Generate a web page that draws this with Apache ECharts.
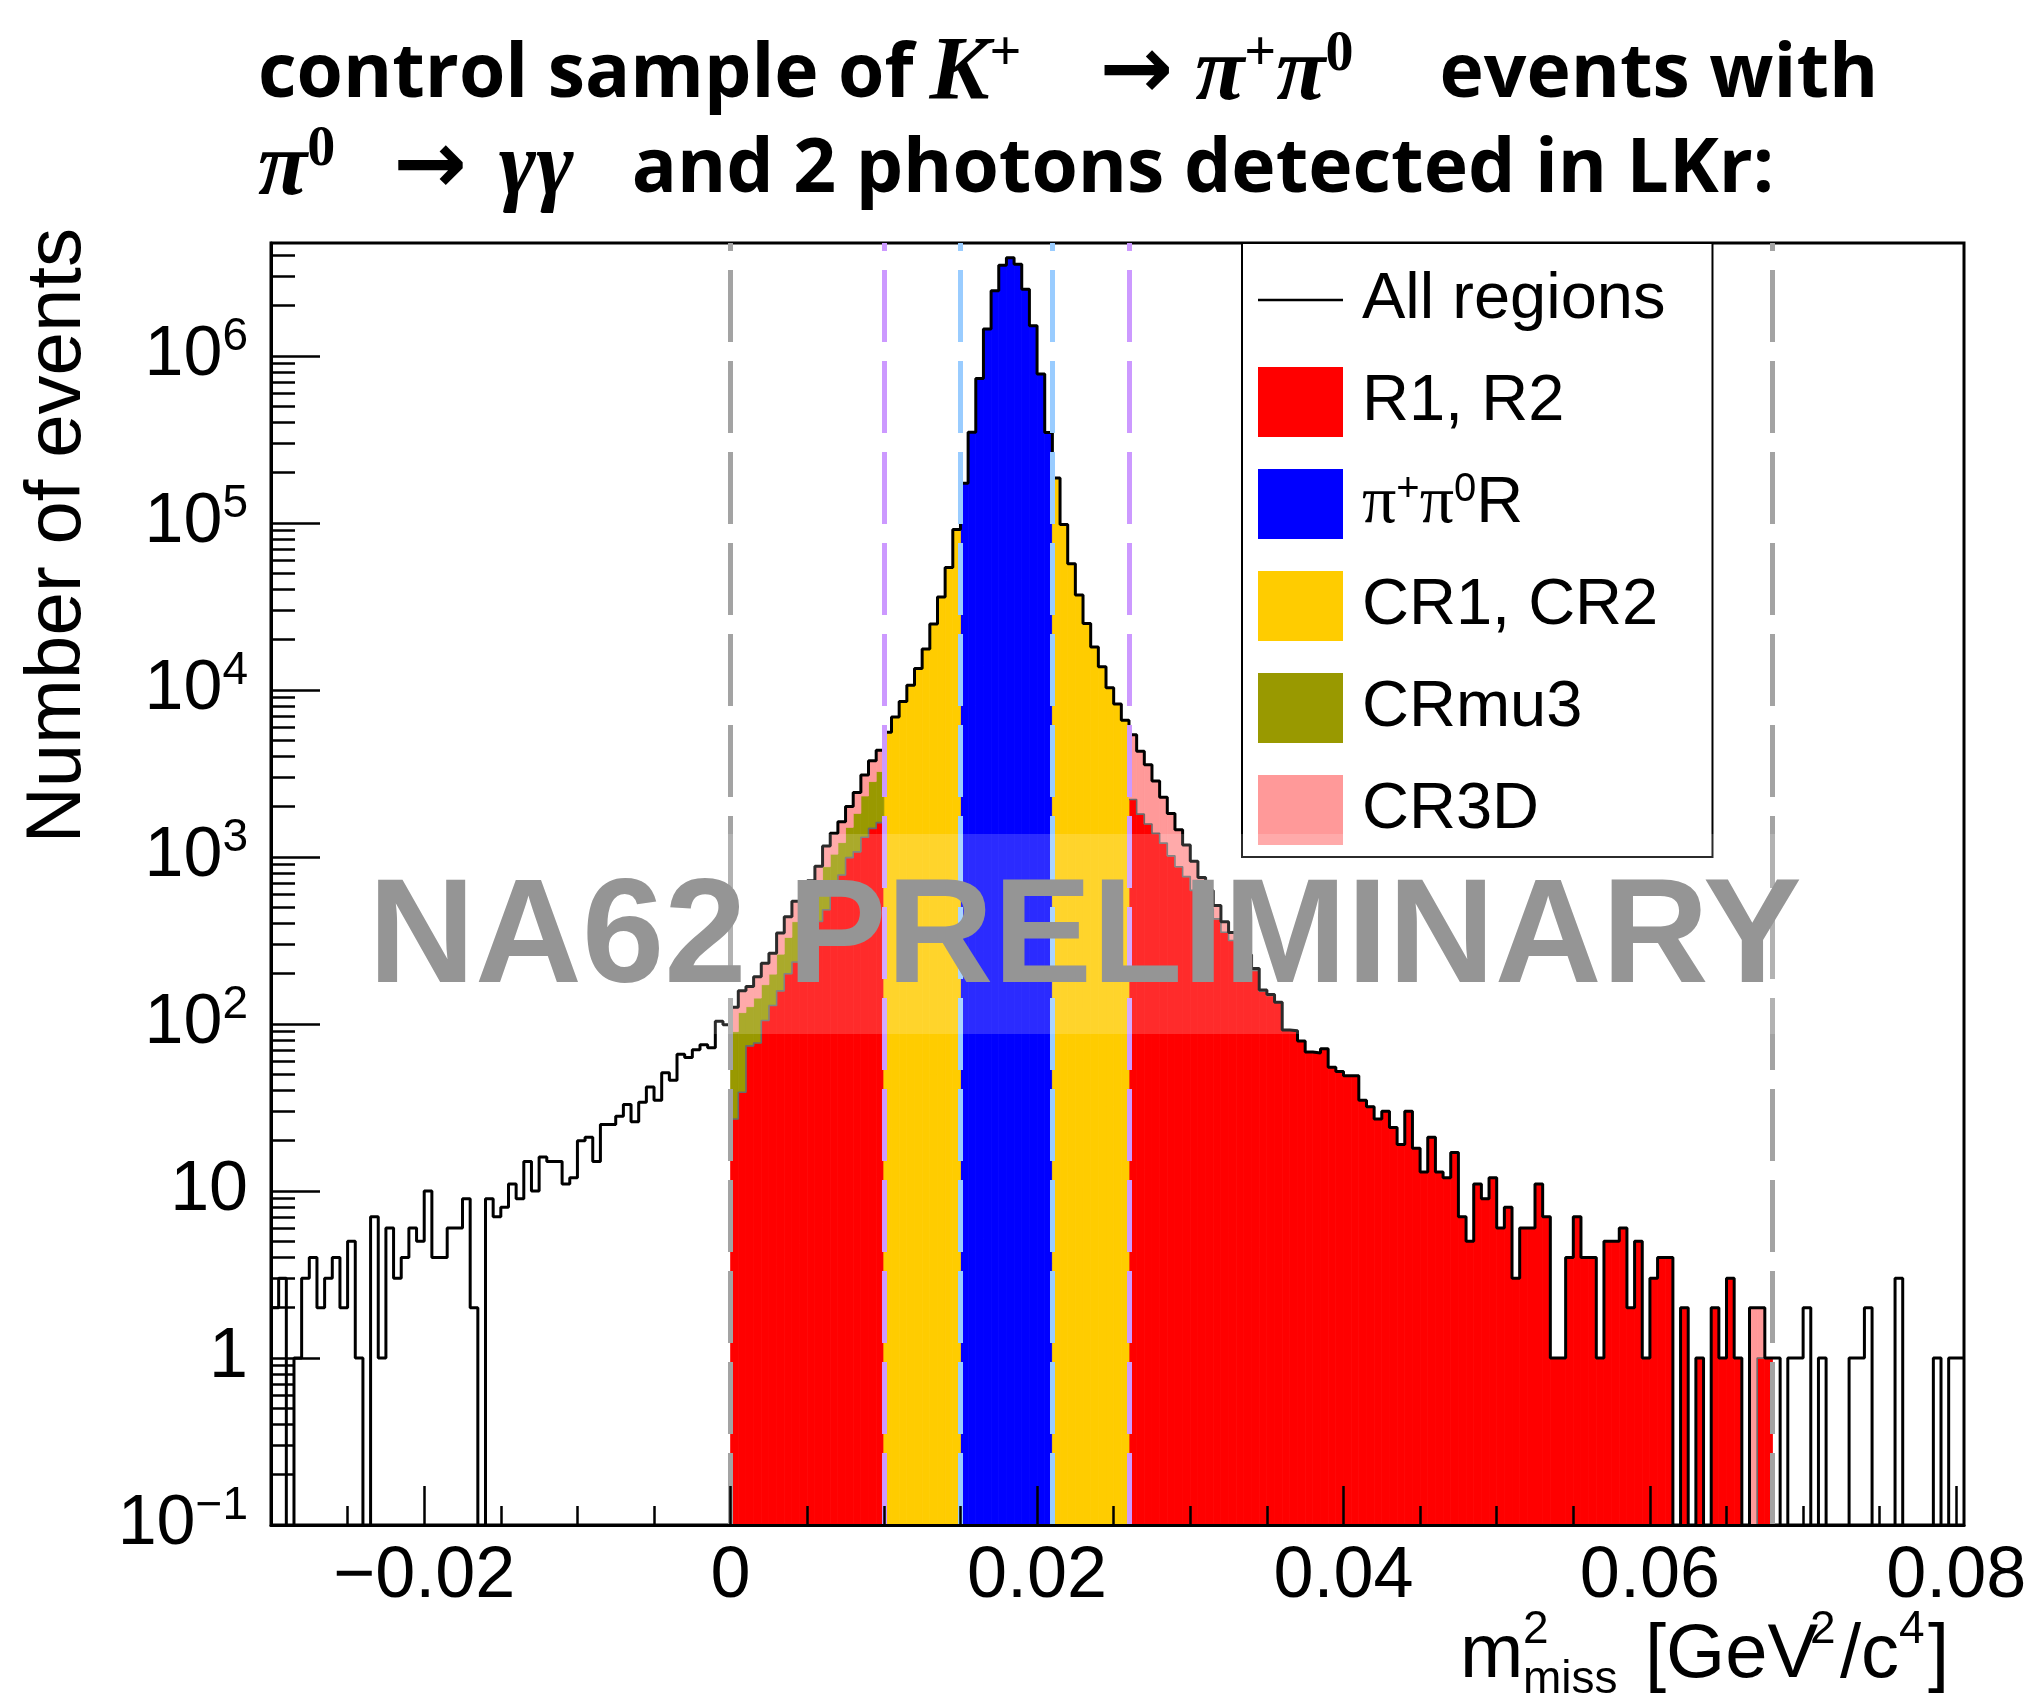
<!DOCTYPE html>
<html>
<head>
<meta charset="utf-8">
<script src="https://cdn.jsdelivr.net/npm/echarts@6/dist/echarts.min.js"></script>
<style>
html,body{margin:0;padding:0;background:#fff;}
#chart{width:2044px;height:1702px;}
</style>
</head>
<body>
<div id="chart"></div>
<script>
// ------------------------------------------------------------------
// DATA
// ------------------------------------------------------------------
const BIN_LOW = -0.03;     // lower edge of first bin  [GeV^2/c^4]
const BIN_WIDTH = 0.0005;  // histogram bin width      [GeV^2/c^4]

// "All regions" : events per bin, 221 bins from -0.03 to 0.0805
const allRegions = [
  2,3,0,1,3,4,2,3,4,2,
  5,1,0,7,1,6,3,4,6,5,
  10,4,4,6,6,9,2,0,9,7,
  8,11,9,15,10,16,15,15,11,12,
  20,21,15,25,25,28,33,26,34,42,
  35,51,46,66,63,70,75,72,104,99,
  126,158,168,192,231,265,351,439,544,614,
  720,879,1165,1387,1628,2006,2431,3093,3776,4360,
  5590,6900,8530,10680,13460,17600,24850,36100,54200,91300,
  173000,350000,733000,1450000,2460000,3490000,3880000,3540000,2510000,1520000,
  780000,348000,186000,98000,57000,37100,25000,18100,13770,10300,
  8240,6580,5390,4300,3570,2856,2281,1824,1457,1181,
  944,755,631,512,409,353,300,260,215,160,
  150,135,92,91,79,68,67,71,55,52,
  49,49,35,32,27,30,24,19,30,18,
  13,21,13,12,17,7,5,11,9,12,
  6,8,3,6,6,11,7,1,1,4,
  7,4,4,1,5,5,6,2,5,1,
  3,4,4,0,2,0,1,0,2,1,
  3,1,0,2,2,1,1,0,1,1,
  2,0,1,0,0,0,1,1,2,0,
  0,0,3,0,0,0,0,1,0,1,
  1
];

// Region R1 (bins 60..79, 0 < m2 < 0.010)
const r1Start = 60;
const r1 = [27,39,74,77,105,129,158,200,235,255,311,411,483,614,780,991,1074,1312,1483,1607];
// CRmu3 (bins 60..79)
const crmu3Start = 60;
const crmu3 = [63,78,53,66,67,70,104,130,175,207,229,249,392,426,440,514,751,1008,1347,1643];
// CR3D below pi+pi0 peak (bins 60..79)
const cr3dLeftStart = 60;
const cr3dLeft = [36,41,41,49,59,66,89,109,134,152,180,219,290,347,408,501,606,773,946,1110];
// CR1 (bins 80..89, 0.010 < m2 < 0.015)
const cr1Start = 80;
const cr1 = [5590,6900,8530,10680,13460,17600,24850,36100,54200,91300];
// pi+pi0 region (bins 90..101, 0.015 < m2 < 0.021)
const pipi0Start = 90;
const pipi0R = [173000,350000,733000,1450000,2460000,3490000,3880000,3540000,2510000,1520000,780000,348000];
// CR2 (bins 102..111, 0.021 < m2 < 0.026)
const cr2Start = 102;
const cr2 = [186000,98000,57000,37100,25000,18100,13770,10300,8240,6580];
// Region R2 (bins 112..195, 0.026 < m2 < 0.068)
const r2Start = 112;
const r2 = [
  2210,1805,1576,1386,1211,1016,874,763,631,563,
  488,426,354,316,277,249,209,157,148,135,
  92,91,79,68,67,71,55,52,49,49,
  35,32,27,30,24,19,30,18,13,21,
  13,12,17,7,5,11,9,12,6,8,
  3,6,6,11,7,1,1,4,7,4,
  4,1,5,5,6,2,5,1,3,4,
  4,0,2,0,1,0,2,1,3,1,
  0,0,1,1
];
// CR3D above pi+pi0 peak (bins 112..195)
const cr3dRightStart = 112;
const cr3dRight = [
  3180,2495,1994,1470,1070,808,583,418,313,192,
  143,86,55,37,23,11,6,3,2,0,
  0,0,0,0,0,0,0,0,0,0,
  0,0,0,0,0,0,0,0,0,0,
  0,0,0,0,0,0,0,0,0,0,
  0,0,0,0,0,0,0,0,0,0,
  0,0,0,0,0,0,0,0,0,0,
  0,0,0,0,0,0,0,0,0,0,
  0,2,1,0
];

// region boundaries (dashed lines) [GeV^2/c^4]
const regionBoundaries = [0, 0.010, 0.015, 0.021, 0.026, 0.068];

// axis ticks
const xMajorTicks = [-0.02, 0, 0.02, 0.04, 0.06, 0.08];
const xMinorTicks = [-0.025,-0.015,-0.01,-0.005,0.005,0.01,0.015,0.025,0.03,0.035,0.045,0.05,0.055,0.065,0.07,0.075];
const yMajorTicks = [0.1, 1, 10, 100, 1e3, 1e4, 1e5, 1e6];
const yMinorTicks = [0.2,0.3,0.4,0.5,0.6,0.7,0.8,0.9, 2,3,4,5,6,7,8,9, 20,30,40,50,60,70,80,90,
  200,300,400,500,600,700,800,900, 2e3,3e3,4e3,5e3,6e3,7e3,8e3,9e3, 2e4,3e4,4e4,5e4,6e4,7e4,8e4,9e4,
  2e5,3e5,4e5,5e5,6e5,7e5,8e5,9e5, 2e6,3e6,4e6];

// ------------------------------------------------------------------
// BUILD
// ------------------------------------------------------------------
const N = allRegions.length;
const edge = i => +(BIN_LOW + i * BIN_WIDTH).toFixed(6);
const X_MIN = BIN_LOW, X_MAX = edge(N);
const Y_MIN = 0.1, Y_MAX = 4.75e6;
const FLOOR = 1e-3; // below axis, zero bins drop to frame bottom

function place(start, arr) { const a = new Array(N).fill(0); arr.forEach((v, k) => { a[start + k] = v; }); return a; }
function sum(...arrs) { return arrs[0].map((_, i) => arrs.reduce((s, a) => s + a[i], 0)); }

const layers = [
  { name: 'R1, R2',   color: '#ff0000', values: sum(place(r1Start, r1), place(r2Start, r2)) },
  { name: 'π⁺π⁰R',    color: '#0000ff', values: place(pipi0Start, pipi0R) },
  { name: 'CR1, CR2', color: '#ffcc00', values: sum(place(cr1Start, cr1), place(cr2Start, cr2)) },
  { name: 'CRmu3',    color: '#999900', values: place(crmu3Start, crmu3) },
  { name: 'CR3D',     color: '#ff9999', values: sum(place(cr3dLeftStart, cr3dLeft), place(cr3dRightStart, cr3dRight)) }
];

let cum = new Array(N).fill(0);
const fillSeries = layers.map(layer => {
  const next = cum.map((c, i) => c + layer.values[i]);
  const data = [];
  for (let i = 0; i < N; i++) {
    if (layer.values[i] > 0) data.push([edge(i), edge(i + 1), Math.max(cum[i], Y_MIN), next[i]]);
  }
  cum = next;
  const color = layer.color;
  return {
    type: 'custom', name: layer.name, coordinateSystem: 'cartesian2d',
    xAxisIndex: 0, yAxisIndex: 0, z: 2, animation: false, silent: true,
    itemStyle: { color },
    encode: { x: [0, 1], y: [2, 3] },
    data,
    renderItem(params, api) {
      const cs = params.coordSys;
      const a = api.coord([api.value(0), api.value(3)]);
      const b = api.coord([api.value(1), api.value(2)]);
      const top = Math.max(Math.min(a[1], b[1]), cs.y);
      const bottom = Math.min(Math.max(a[1], b[1]), cs.y + cs.height);
      return { type: 'rect', shape: { x: a[0], y: top, width: b[0] - a[0], height: bottom - top },
               style: { fill: color, stroke: color, lineWidth: 0.8 } };
    }
  };
});

// thin outline of the R1,R2 layer
const redVals = layers[0].values;
const redOutline = [];
[[r1Start, r1Start + r1.length - 1], [r2Start, r2Start + r2.length - 1]].forEach(([s, e]) => {
  for (let i = s; i <= e; i++) redOutline.push([edge(i), redVals[i] > 0 ? redVals[i] : FLOOR]);
  redOutline.push([edge(e + 1), redVals[e] > 0 ? redVals[e] : FLOOR]);
  redOutline.push([edge(e + 1), null]);
});

const totalLine = allRegions.map((v, i) => [edge(i), v > 0 ? v : FLOOR]);
totalLine.push([X_MAX, allRegions[N - 1] > 0 ? allRegions[N - 1] : FLOOR]);

const boundaryColors = ['#a3a3a3', '#cc99ff', '#99ccff', '#99ccff', '#cc99ff', '#a3a3a3'];

const FONT = '"Liberation Sans", Arial, Helvetica, sans-serif';
const SERIF = '"Liberation Serif", "DejaVu Serif", serif';
const TFONT = '"Open Sans", sans-serif';

const yLabelFmt = v => {
  const e = Math.round(Math.log10(v));
  if (e === 0) return '{b|1}';
  if (e === 1) return '{b|10}';
  return '{b|10}{s|' + (e < 0 ? '−' + (-e) : e) + '}';
};
const xLabelFmt = v => (Math.abs(v) < 1e-12 ? '0' : (v < 0 ? '−' + String(+(-v).toFixed(4)) : String(+v.toFixed(4))));

const titleRich = {
  b:  { fontFamily: TFONT, fontWeight: 'bold', fontSize: 75, lineHeight: 95, color: '#000' },
  e:  { fontFamily: TFONT, fontWeight: 'bold', fontSize: 75, lineHeight: 95, color: '#000', padding: [0, 0, 0, 86] },
  e2: { fontFamily: TFONT, fontWeight: 'bold', fontSize: 75, lineHeight: 95, color: '#000', padding: [0, 0, 0, 58] },
  m:  { fontFamily: SERIF, fontStyle: 'italic', fontSize: 90, lineHeight: 95, color: '#000' },
  mk: { fontFamily: SERIF, fontStyle: 'italic', fontSize: 90, lineHeight: 95, color: '#000', padding: [0, 0, 0, 16] },
  s:  { fontFamily: SERIF, fontSize: 56, lineHeight: 62, verticalAlign: 'top', color: '#000' },
  a:  { fontFamily: '"DejaVu Sans", sans-serif', fontSize: 88, lineHeight: 95, color: '#000', padding: [0, 22, 0, 78] },
  a2: { fontFamily: '"DejaVu Sans", sans-serif', fontSize: 88, lineHeight: 95, color: '#000', padding: [0, 32, 0, 58] }
};

// legend icon for a plain line (thin bar, bounding box = full item box)
const LINE_ICON = 'path://M0,0L0.01,0L0,0.01Z M0,33.8L85,33.8L85,36.2L0,36.2Z M85,70L84.99,70L85,69.99Z';

const option = {
  animation: false,
  backgroundColor: '#ffffff',
  title: [
    { left: 258, top: 28, padding: 0,
      text: '{b|control sample of}{mk|K}{s|+}{a|→}{m|π}{s|+}{m|π}{s|0}{e|events with}',
      textStyle: { rich: titleRich } },
    { left: 258, top: 123, padding: 0,
      text: '{m|π}{s|0}{a2|→}{m|γγ}{e2|and 2 photons detected in LKr:}',
      textStyle: { rich: titleRich } }
  ],
  grid: { left: 271, right: 80, top: 243, bottom: 177, show: true, borderColor: '#000', borderWidth: 3, backgroundColor: 'transparent', containLabel: false },
  xAxis: [
    { type: 'value', min: X_MIN, max: X_MAX, position: 'bottom', z: 20,
      axisLine: { show: true, onZero: false, lineStyle: { color: '#000', width: 3 } },
      axisTick: { show: true, inside: true, length: 19, customValues: xMinorTicks, lineStyle: { color: '#000', width: 2.5 } },
      axisLabel: { show: false }, splitLine: { show: false } },
    { type: 'value', min: X_MIN, max: X_MAX, position: 'bottom', z: 20,
      axisLine: { show: false, onZero: false },
      axisTick: { show: true, inside: true, length: 39, customValues: xMajorTicks, lineStyle: { color: '#000', width: 2.5 } },
      axisLabel: { show: true, customValues: xMajorTicks, formatter: xLabelFmt, margin: 16,
                   fontFamily: FONT, fontSize: 72, color: '#000' },
      splitLine: { show: false } }
  ],
  yAxis: [
    { type: 'log', logBase: 10, min: Y_MIN, max: Y_MAX, position: 'left', z: 20,
      axisLine: { show: true, onZero: false, lineStyle: { color: '#000', width: 3 } },
      axisTick: { show: true, inside: true, length: 24, customValues: yMinorTicks, lineStyle: { color: '#000', width: 2.5 } },
      axisLabel: { show: false }, splitLine: { show: false }, minorTick: { show: false } },
    { type: 'log', logBase: 10, min: Y_MIN, max: Y_MAX, position: 'left', z: 20,
      axisLine: { show: false, onZero: false },
      axisTick: { show: true, inside: true, length: 49, customValues: yMajorTicks, lineStyle: { color: '#000', width: 2.5 } },
      axisLabel: { show: true, customValues: yMajorTicks, formatter: yLabelFmt, margin: 23,
                   rich: {
                     b: { fontFamily: FONT, fontSize: 70, lineHeight: 84, color: '#000' },
                     s: { fontFamily: FONT, fontSize: 46, lineHeight: 46, verticalAlign: 'top', color: '#000', padding: [0, 0, 0, 0] }
                   } },
      splitLine: { show: false } }
  ],
  legend: {
    orient: 'vertical', left: 1242, top: 243, z: 30,
    padding: [22, 47, 12, 16], itemGap: 32, itemWidth: 85, itemHeight: 70,
    backgroundColor: '#ffffff', borderColor: '#000', borderWidth: 2,
    selectedMode: false,
    data: [
      { name: 'All regions', icon: LINE_ICON, itemStyle: { color: '#000', borderWidth: 0 } },
      { name: 'R1, R2', icon: 'rect' },
      { name: 'π⁺π⁰R', icon: 'rect' },
      { name: 'CR1, CR2', icon: 'rect' },
      { name: 'CRmu3', icon: 'rect' },
      { name: 'CR3D', icon: 'rect' }
    ],
    formatter: name => name === 'π⁺π⁰R'
      ? '{p1|π}{sp|+}{p|π}{sp|0}{t|R}'
      : '{t1|' + name + '}',
    textStyle: {
      fontFamily: FONT, fontSize: 65, color: '#000',
      rich: {
        t1: { fontFamily: FONT, fontSize: 65, color: '#000', padding: [0, 0, 0, 14] },
        t: { fontFamily: FONT, fontSize: 65, color: '#000' },
        p1: { fontFamily: SERIF, fontSize: 68, color: '#000', padding: [0, 0, 0, 14] },
        p: { fontFamily: SERIF, fontSize: 68, color: '#000' },
        sp: { fontFamily: FONT, fontSize: 40, lineHeight: 40, verticalAlign: 'top', color: '#000' }
      }
    }
  },
  series: [
    ...fillSeries,
    { type: 'line', name: 'R1 outline', data: redOutline, step: 'end', symbol: 'none', z: 3,
      connectNulls: false, silent: true, animation: false,
      lineStyle: { color: '#6a6a6a', width: 1.6 } },
    { type: 'line', name: 'All regions', data: totalLine, step: 'end', symbol: 'none', showSymbol: false, z: 4,
      silent: true, animation: false, clip: true,
      itemStyle: { color: '#000' }, lineStyle: { color: '#000', width: 3 } },
    { type: 'line', name: 'boundaries', data: [], z: 6, silent: true, animation: false,
      markLine: {
        silent: true, symbol: ['none', 'none'], label: { show: false }, animation: false, precision: 6,
        data: regionBoundaries.map((v, i) => ({ xAxis: v, lineStyle: { color: boundaryColors[i], width: 5, type: [72, 19], opacity: 1 } }))
      } }
  ],
  graphic: [
    // watermark band + text
    { type: 'rect', z: 100, silent: true, shape: { x: 365, y: 834, width: 1440, height: 200 },
      style: { fill: 'rgba(255,255,255,0.17)' } },
    { type: 'text', z: 101, silent: true, x: 1085, y: 941,
      style: { text: 'NA62 PRELIMINARY', font: 'bold 148px ' + FONT, fill: '#959595', align: 'center', verticalAlign: 'middle' } },
    // y-axis title
    { type: 'text', z: 50, silent: true, x: 58, y: 228, rotation: Math.PI / 2,
      style: { text: 'Number of events', font: '78px ' + FONT, fill: '#000', align: 'right', verticalAlign: 'middle' } },
    // x-axis title pieces
    { type: 'text', z: 50, silent: true, x: 1460, y: 1656, style: { text: 'm', font: '76px ' + FONT, fill: '#000', align: 'left', verticalAlign: 'middle' } },
    { type: 'text', z: 50, silent: true, x: 1523, y: 1630, style: { text: '2', font: '46px ' + FONT, fill: '#000', align: 'left', verticalAlign: 'middle' } },
    { type: 'text', z: 50, silent: true, x: 1523, y: 1680, style: { text: 'miss', font: '46px ' + FONT, fill: '#000', align: 'left', verticalAlign: 'middle' } },
    { type: 'text', z: 50, silent: true, x: 1645, y: 1656, style: { text: '[GeV', font: '76px ' + FONT, fill: '#000', align: 'left', verticalAlign: 'middle' } },
    { type: 'text', z: 50, silent: true, x: 1810, y: 1630, style: { text: '2', font: '46px ' + FONT, fill: '#000', align: 'left', verticalAlign: 'middle' } },
    { type: 'text', z: 50, silent: true, x: 1840, y: 1656, style: { text: '/c', font: '76px ' + FONT, fill: '#000', align: 'left', verticalAlign: 'middle' } },
    { type: 'text', z: 50, silent: true, x: 1899, y: 1630, style: { text: '4', font: '46px ' + FONT, fill: '#000', align: 'left', verticalAlign: 'middle' } },
    { type: 'text', z: 50, silent: true, x: 1928, y: 1656, style: { text: ']', font: '76px ' + FONT, fill: '#000', align: 'left', verticalAlign: 'middle' } }
  ]
};

const chart = echarts.init(document.getElementById('chart'), null, { renderer: 'canvas', width: 2044, height: 1702 });
chart.setOption(option);
</script>
</body>
</html>
